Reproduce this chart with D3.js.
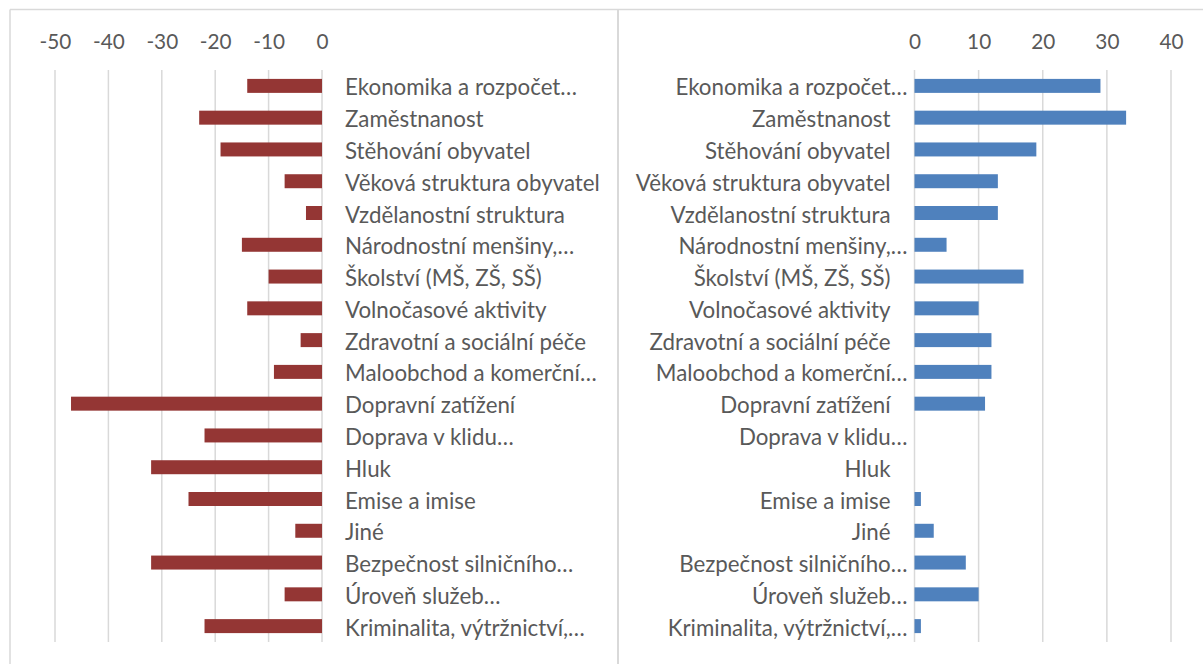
<!DOCTYPE html>
<html>
<head>
<meta charset="utf-8">
<script src="https://cdn.jsdelivr.net/npm/d3@7"></script>
<style>
  html, body { margin: 0; padding: 0; background: #fff; }
  svg { display: block; }
  text { font-family: Lato, "Open Sans", sans-serif; fill: #595959; }
</style>
</head>
<body>
<svg id="chart" width="1203" height="664"></svg>
<script>
const categories = [
  "Ekonomika a rozpočet…",
  "Zaměstnanost",
  "Stěhování obyvatel",
  "Věková struktura obyvatel",
  "Vzdělanostní struktura",
  "Národnostní menšiny,…",
  "Školství (MŠ, ZŠ, SŠ)",
  "Volnočasové aktivity",
  "Zdravotní a sociální péče",
  "Maloobchod a komerční…",
  "Dopravní zatížení",
  "Doprava v klidu…",
  "Hluk",
  "Emise a imise",
  "Jiné",
  "Bezpečnost silničního…",
  "Úroveň služeb…",
  "Kriminalita, výtržnictví,…"
];
const negativeValues = [-14, -23, -19, -7, -3, -15, -10, -14, -4, -9, -47, -22, -32, -25, -5, -32, -7, -22];
const positiveValues = [29, 33, 19, 13, 13, 5, 17, 10, 12, 12, 11, 0, 0, 1, 3, 8, 10, 1];
const negativeTicks = [-50, -40, -30, -20, -10, 0];
const positiveTicks = [0, 10, 20, 30, 40];

const svg = d3.select("#chart");
const gridColor = "#d9d9d9";
const plotTop = 70, plotBottom = 642;

// fit label font size so the widest full label matches the reference width
const probe = svg.append("text").attr("font-size", 20).text("Věková struktura obyvatel");
const w20 = probe.node().getComputedTextLength();
probe.remove();
const labelSize = 20 * 255 / w20;

// panel borders
svg.append("line").attr("x1", 10).attr("x2", 1203).attr("y1", 9.5).attr("y2", 9.5)
  .attr("stroke", gridColor).attr("stroke-width", 1.5);
svg.append("line").attr("x1", 10).attr("x2", 10).attr("y1", 9.5).attr("y2", 664)
  .attr("stroke", gridColor).attr("stroke-width", 1.5);
svg.append("line").attr("x1", 618).attr("x2", 618).attr("y1", 9.5).attr("y2", 664)
  .attr("stroke", gridColor).attr("stroke-width", 2);

const y = d3.scaleBand().domain(categories).range([plotTop, plotBottom]).paddingInner(0.56).paddingOuter(0.28);

function panel(values, ticks, domain, range, color, side) {
  const x = d3.scaleLinear().domain(domain).range(range);
  const g = svg.append("g");
  // gridlines
  g.selectAll(".grid").data(ticks).join("line")
    .attr("x1", d => x(d)).attr("x2", d => x(d))
    .attr("y1", plotTop).attr("y2", plotBottom)
    .attr("stroke", gridColor).attr("stroke-width", 1.5);
  // top axis labels
  const axis = d3.axisTop(x).tickValues(ticks).tickSize(0).tickPadding(0).tickFormat(d => String(d));
  const ag = g.append("g").attr("transform", "translate(0,49)").call(axis);
  ag.select(".domain").remove();
  ag.selectAll("text").attr("font-size", labelSize * 0.93).attr("fill", "#595959")
    .style("font-family", "Lato, 'Open Sans', sans-serif");
  // bars
  const x0 = x(0);
  g.selectAll(".bar").data(values).join("rect")
    .attr("x", d => Math.min(x(d), x0))
    .attr("width", d => Math.abs(x(d) - x0))
    .attr("y", (d, i) => y(categories[i]))
    .attr("height", y.bandwidth())
    .attr("fill", color);
  // category labels
  g.selectAll(".lab").data(categories).join("text")
    .attr("font-size", labelSize)
    .attr("dominant-baseline", "central")
    .attr("y", d => y(d) + y.bandwidth() / 2 + 1)
    .attr("x", d => side === "left" ? x0 + 23 : (d.endsWith("…") ? x0 - 7 : x0 - 24))
    .attr("text-anchor", side === "left" ? "start" : "end")
    .text(d => d);
}

panel(negativeValues, negativeTicks, [-50, 0], [55, 322], "#943634", "left");
panel(positiveValues, positiveTicks, [0, 40], [914.5, 1171], "#4f81bd", "right");
</script>
</body>
</html>
